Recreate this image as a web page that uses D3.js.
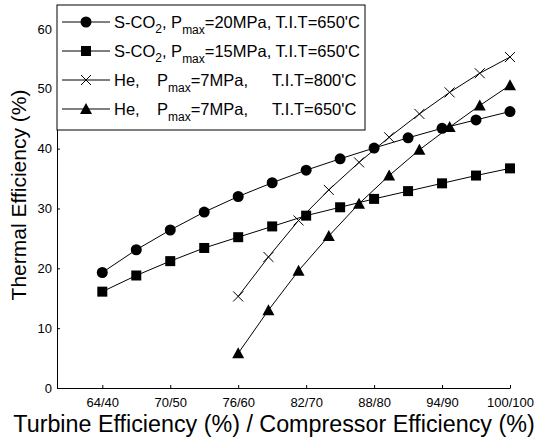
<!DOCTYPE html>
<html lang="en">
<head>
  <meta charset="UTF-8">
  <title>Thermal efficiency</title>
  <style>
    body { margin: 0; background: #fff; }
    svg { display: block; font-family: "Liberation Sans", Arial, sans-serif; }
  </style>
</head>
<body>
<script src="https://cdn.jsdelivr.net/npm/d3@7"></script>
<script>
  // turbine efficiency on x, labels show turbine/compressor pair
  var tickVals = [64, 70, 76, 82, 88, 94, 100]
  var tickLabels = ['64/40', '70/50', '76/60', '82/70', '88/80', '94/90', '100/100']
  var yTicks = [0, 10, 20, 30, 40, 50, 60]

  var xCO2 = [64, 67, 70, 73, 76, 79, 82, 85, 88, 91, 94, 97, 100]
  var co2_20 = [19.3, 23.1, 26.4, 29.4, 32.0, 34.3, 36.4, 38.3, 40.1, 41.8, 43.4, 44.8, 46.2]
  var co2_15 = [16.1, 18.8, 21.2, 23.4, 25.2, 27.0, 28.8, 30.2, 31.6, 32.9, 34.2, 35.5, 36.7]

  var xHe = [76, 78.67, 81.33, 84, 86.67, 89.33, 92, 94.67, 97.33, 100]
  var he800 = [15.3, 21.9, 28.0, 33.1, 37.7, 41.9, 45.8, 49.4, 52.6, 55.3]
  var he650 = [5.8, 13.0, 19.6, 25.4, 30.8, 35.5, 39.8, 43.6, 47.2, 50.6]

  var series = [
    {x: xCO2, y: co2_20, sym: 'circle', gas: 'S-CO', sub2: true, p: '=20MPa,', tit: '650'},
    {x: xCO2, y: co2_15, sym: 'square', gas: 'S-CO', sub2: true, p: '=15MPa,', tit: '650'},
    {x: xHe, y: he800, sym: 'cross', gas: 'He,', sub2: false, p: '=7MPa,', tit: '800'},
    {x: xHe, y: he650, sym: 'triangle', gas: 'He,', sub2: false, p: '=7MPa,', tit: '650'}
  ]

  var width = 539
  var height = 439

  var x = d3.scaleLinear().domain([60, 100]).range([57, 510])
  var y = d3.scaleLinear().domain([0, 64]).range([388, 5])

  var svg = d3.select('body').append('svg')
    .attr('width', width)
    .attr('height', height)

  var xAxis = d3.axisBottom(x)
    .tickValues(tickVals)
    .tickFormat((d, i) => tickLabels[i])
    .tickSizeInner(-3)
    .tickSizeOuter(0)
    .tickPadding(10)
  var yAxis = d3.axisLeft(y)
    .tickValues(yTicks)
    .tickSizeInner(-3)
    .tickSizeOuter(0)
    .tickPadding(5)

  svg.append('g').attr('transform', 'translate(0,388)').call(xAxis)
  svg.append('g').attr('transform', 'translate(57,0)').call(yAxis)
  svg.selectAll('.tick text').attr('font-size', 13).attr('fill', '#000').attr('font-family', null)
  svg.selectAll('.domain, .tick line').attr('stroke', '#000')

  svg.append('text')
    .attr('x', 274).attr('y', 432)
    .attr('text-anchor', 'middle')
    .attr('font-size', 23.3)
    .text('Turbine Efficiency (%) / Compressor Efficiency (%)')
  svg.append('text')
    .attr('transform', 'translate(26,195) rotate(-90)')
    .attr('text-anchor', 'middle')
    .attr('font-size', 21)
    .text('Thermal Efficiency (%)')

  function marker(g, sym) {
    if (sym === 'circle') g.append('circle').attr('r', 5.5).attr('fill', '#000')
    else if (sym === 'square') g.append('rect').attr('x', -5).attr('y', -5).attr('width', 10).attr('height', 10).attr('fill', '#000')
    else if (sym === 'triangle') g.append('path').attr('d', 'M0,-6L6,5L-6,5Z').attr('fill', '#000')
    else g.append('path').attr('d', 'M-5,-5L5,5M-5,5L5,-5').attr('stroke', '#000').attr('fill', 'none')
  }

  var line = d3.line()

  series.forEach(s => {
    var pts = s.y.map((v, i) => [x(s.x[i]), y(v)])
    svg.append('path')
      .attr('d', line(pts))
      .attr('fill', 'none')
      .attr('stroke', '#000')
      .attr('stroke-width', 1)
    svg.append('g').selectAll('g')
      .data(pts)
      .enter()
      .append('g')
      .attr('transform', d => `translate(${d[0]},${d[1]})`)
      .each(function() { marker(d3.select(this), s.sym) })
  })

  // legend
  var lg = svg.append('g')
  lg.append('rect')
    .attr('x', 57).attr('y', 5).attr('width', 308).attr('height', 125)
    .attr('fill', '#fff').attr('stroke', '#000')

  series.forEach((s, i) => {
    var ly = 22 + i * 29
    lg.append('line').attr('x1', 62).attr('x2', 110).attr('y1', ly).attr('y2', ly).attr('stroke', '#000')
    var m = lg.append('g').attr('transform', `translate(86,${ly})`)
    marker(m, s.sym)
    var t = lg.append('text').attr('x', 114).attr('y', ly + 6).attr('font-size', 16.5)
    t.append('tspan').text(s.gas)
    if (s.sub2) {
      t.append('tspan').attr('font-size', 12).attr('dy', 5).text('2')
      t.append('tspan').attr('dy', -5).text(', P')
    } else {
      t.append('tspan').attr('x', 157).text('P')
    }
    t.append('tspan').attr('font-size', 12).attr('dy', 6).text('max')
    t.append('tspan').attr('dy', -6).text(s.p)
    t.append('tspan').attr('x', s.sub2 ? null : 272).text((s.sub2 ? ' ' : '') + 'T.I.T=' + s.tit + "'C")
  })
</script>
</body>
</html>
